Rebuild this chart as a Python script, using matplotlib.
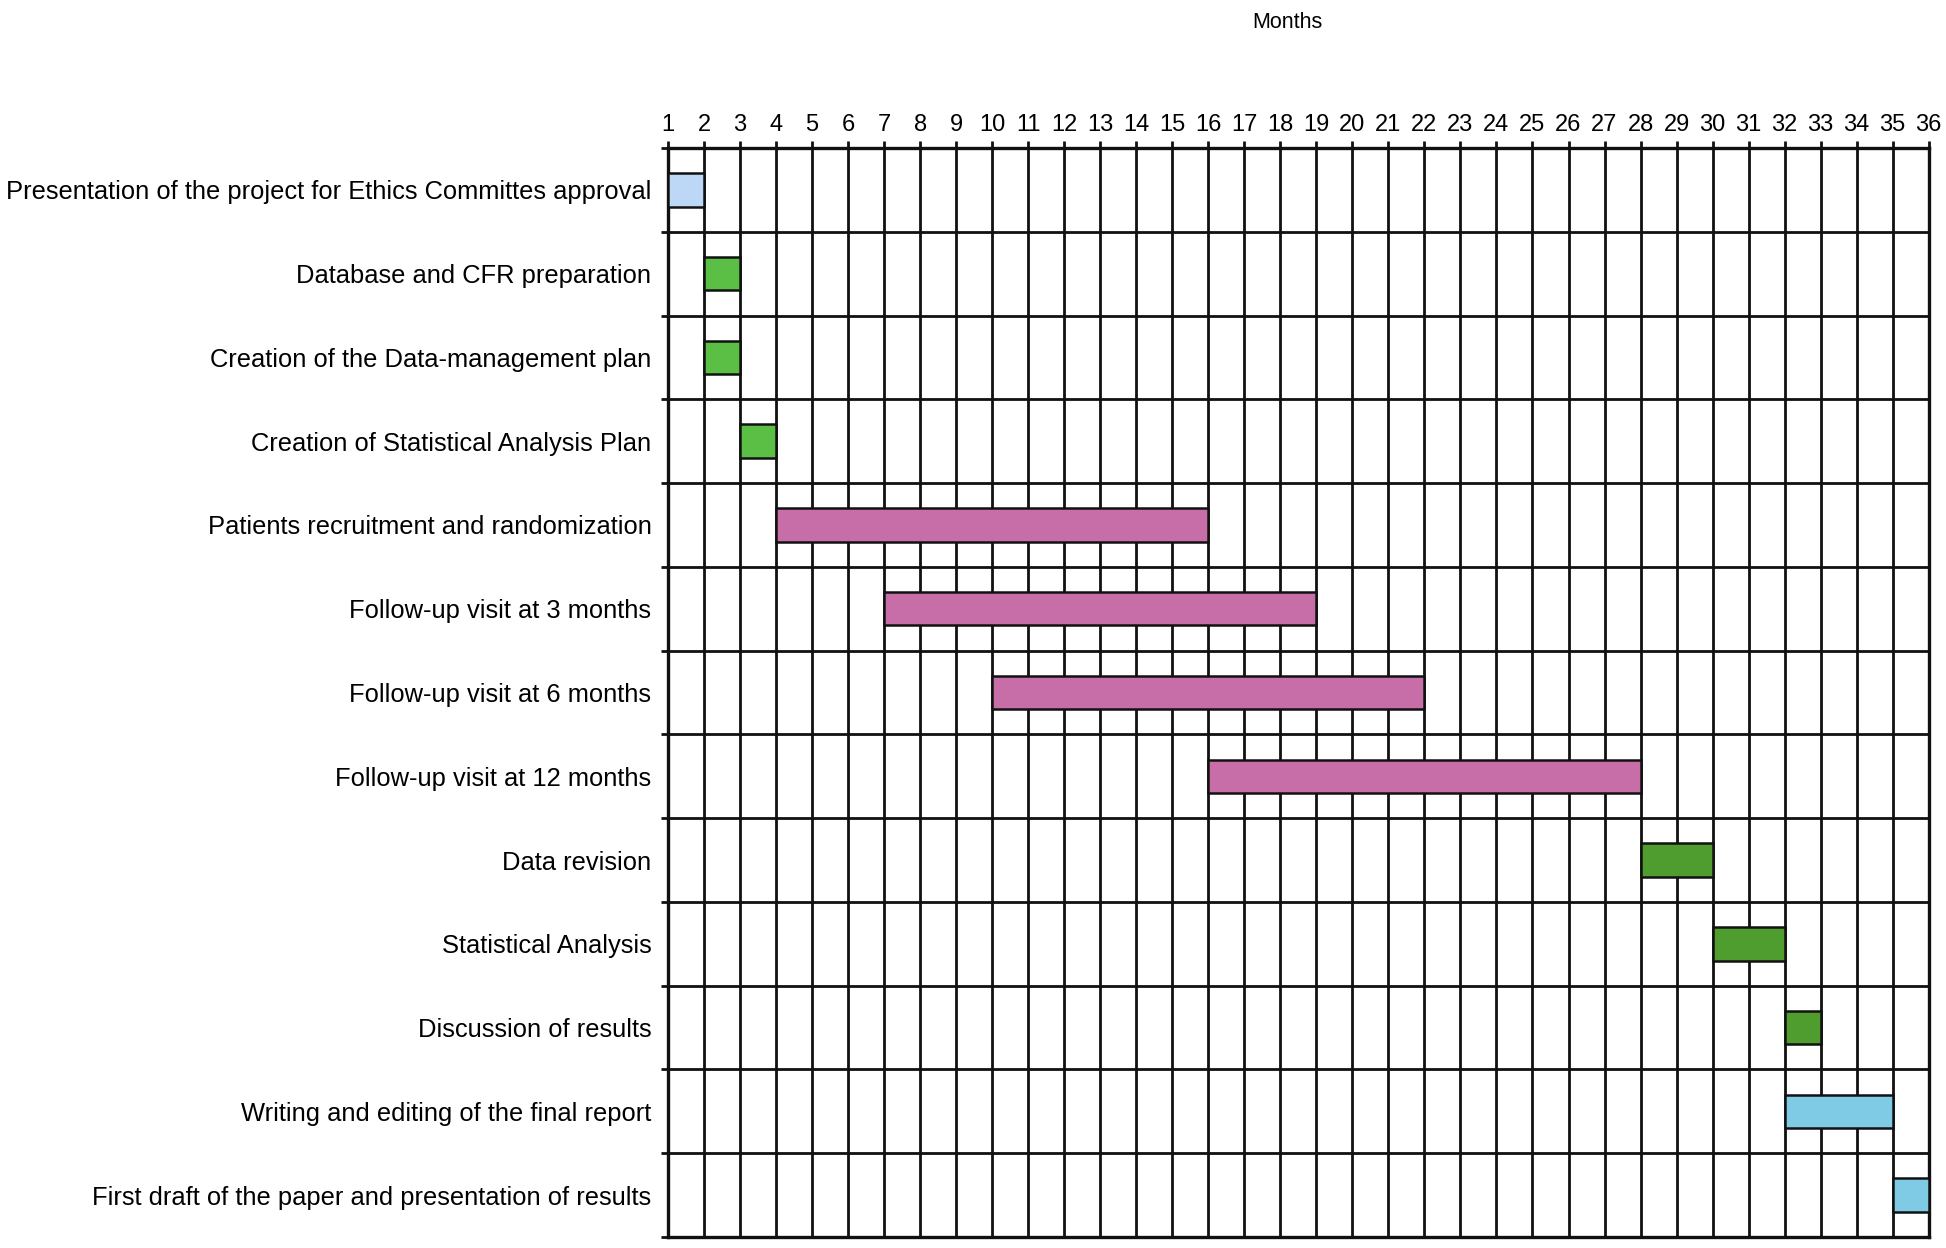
import matplotlib
matplotlib.use("Agg")
import matplotlib.pyplot as plt
import numpy as np

tasks = [
    "Presentation of the project for Ethics Committes approval",
    "Database and CFR preparation",
    "Creation of the Data-management plan",
    "Creation of Statistical Analysis Plan",
    "Patients recruitment and randomization",
    "Follow-up visit at 3 months",
    "Follow-up visit at 6 months",
    "Follow-up visit at 12 months",
    "Data revision",
    "Statistical Analysis",
    "Discussion of results",
    "Writing and editing of the final report",
    "First draft of the paper and presentation of results",
]
start_month = [1, 2, 2, 3, 4, 7, 10, 16, 28, 30, 32, 32, 35]
end_month = [2, 3, 3, 4, 16, 19, 22, 28, 30, 32, 33, 35, 36]
bar_colors = ["#bcd8f6", "#5cbf45", "#5cbf45", "#5cbf45", "#c76ea8", "#c76ea8",
              "#c76ea8", "#c76ea8", "#4f9d2f", "#4f9d2f", "#4f9d2f", "#7fcae4", "#7fcae4"]
months = list(range(1, 37))
x_label = "Months"

plt.rcParams['font.family'] = ['Liberation Sans', 'DejaVu Sans']

fig = plt.figure(figsize=(19.46, 12.48), dpi=100)
ax = fig.add_axes([0.3433, 0.0088, 0.9911 - 0.3433, 0.8814 - 0.0088])

n = len(tasks)
y = np.arange(n)
widths = [e - s for s, e in zip(start_month, end_month)]
ax.barh(y, widths, left=start_month, height=0.4, color=bar_colors,
        edgecolor="#111111", linewidth=1.8, zorder=3)

ax.set_xlim(months[0], months[-1])
ax.set_ylim(n - 0.5, -0.5)

lw = 2.0
# vertical month lines
for m in months:
    ax.axvline(m, color="#111111", linewidth=lw, zorder=2)
# horizontal row boundaries
for b in np.arange(0.5, n - 0.5, 1.0):
    ax.axhline(b, color="#111111", linewidth=lw, zorder=2)

ax.xaxis.tick_top()
ax.set_xticks(months)
ax.set_xticklabels([str(m) for m in months], fontsize=17)
ax.tick_params(axis="x", which="major", length=5, width=lw, pad=4, color="#111111")

ax.set_yticks(np.arange(-0.5, n, 1.0))
ax.set_yticklabels([])
ax.tick_params(axis="y", which="major", length=5, width=lw, color="#111111")
ax.set_yticks(y, minor=True)
ax.set_yticklabels(tasks, minor=True, fontsize=18.4)
ax.tick_params(axis="y", which="minor", length=0, pad=12)

for sp in ax.spines.values():
    sp.set_linewidth(2.4)
    sp.set_color("#111111")

fig.text(1287 / 1946, 1 - 22 / 1248, x_label, ha="center", va="center", fontsize=15.5)

fig.savefig("out.png", dpi=100, facecolor="white")
